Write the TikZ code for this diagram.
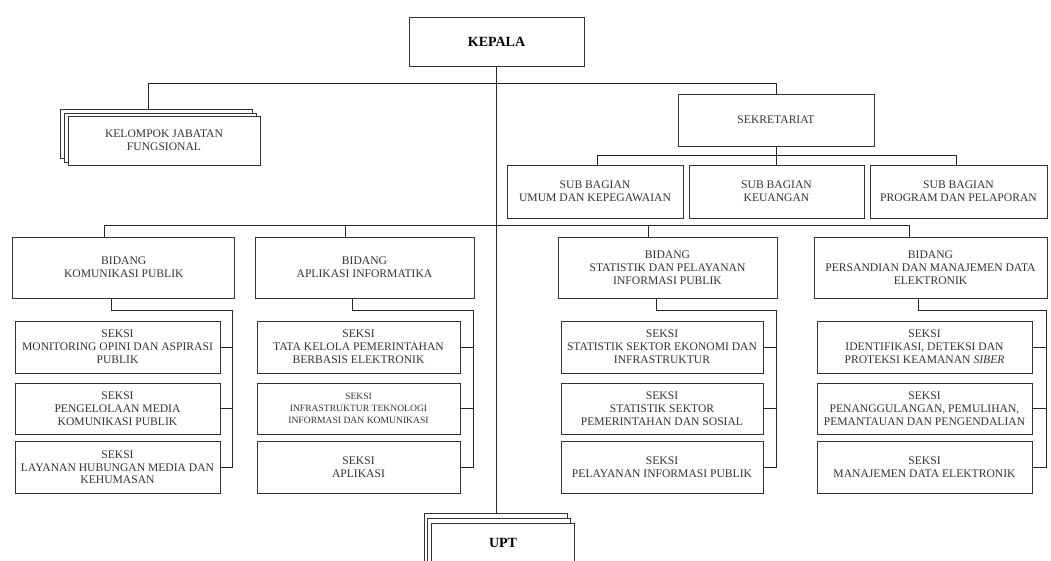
\documentclass[tikz,border=0pt]{standalone}
\usepackage{fontspec}
\setmainfont{Liberation Serif}
\begin{document}
\begin{tikzpicture}[x=1pt,y=-1pt,
  box/.style={draw=black!80,line width=1pt,fill=white,align=center,inner sep=1pt,
    font=\fontsize{11.6}{12.8}\selectfont,text=black!80},
  wire/.style={draw=black!85,line width=1pt},
  boldbox/.style={box,font=\fontsize{14}{16}\selectfont\bfseries,text=black}]
\clip (0,0) rectangle (1051,560);
\fill[white] (0,0) rectangle (1051,560);
% KEPALA
\node[boldbox,minimum width=175,minimum height=49] (kepala) at (496.5,41.5) {KEPALA};
% KJF stack
\node[box,minimum width=192,minimum height=49] (kjfA) at (156,134) {};
\node[box,minimum width=192,minimum height=49] (kjfB) at (160,137.5) {};
\node[box,minimum width=192,minimum height=49] (kjf) at (164,140.5) {KELOMPOK JABATAN\\FUNGSIONAL};
% Sekretariat
\node[box,minimum width=196,minimum height=52] (sek) at (776,120) {SEKRETARIAT};
\node[box,minimum width=176,minimum height=53] (sb1) at (595,191.5) {SUB BAGIAN\\UMUM DAN KEPEGAWAIAN};
\node[box,minimum width=175,minimum height=53] (sb2) at (776.5,191.5) {SUB BAGIAN\\KEUANGAN};
\node[box,minimum width=177,minimum height=53] (sb3) at (958.5,191.5) {SUB BAGIAN\\PROGRAM DAN PELAPORAN};
% Bidang
\node[box,minimum width=222,minimum height=61] (b1) at (123.8,267.5) {BIDANG\\KOMUNIKASI PUBLIK};
\node[box,minimum width=219,minimum height=61] (b2) at (364.5,267.5) {BIDANG\\APLIKASI INFORMATIKA};
\node[box,minimum width=219,minimum height=61] (b3) at (667.5,267.5) {BIDANG\\STATISTIK DAN PELAYANAN\\INFORMASI PUBLIK};
\node[box,minimum width=233,minimum height=61] (b4) at (930.5,267.5) {BIDANG\\PERSANDIAN DAN MANAJEMEN DATA\\ELEKTRONIK};
% Seksi col 1
\node[box,minimum width=205,minimum height=52] (s11) at (117.5,347) {SEKSI\\MONITORING OPINI DAN ASPIRASI\\PUBLIK};
\node[box,minimum width=205,minimum height=51] (s12) at (117.5,408.5) {SEKSI\\PENGELOLAAN MEDIA\\KOMUNIKASI PUBLIK};
\node[box,minimum width=205,minimum height=51.5] (s13) at (117.5,467.3) {SEKSI\\LAYANAN HUBUNGAN MEDIA DAN\\KEHUMASAN};
% col 2
\node[box,minimum width=203,minimum height=52] (s21) at (358.5,347) {SEKSI\\TATA KELOLA PEMERINTAHAN\\BERBASIS ELEKTRONIK};
\node[box,minimum width=203,minimum height=51,font=\fontsize{9.6}{12}\selectfont] (s22) at (358.5,408.5) {SEKSI\\INFRASTRUKTUR TEKNOLOGI\\INFORMASI DAN KOMUNIKASI};
\node[box,minimum width=203,minimum height=51.5] (s23) at (358.5,467.3) {SEKSI\\APLIKASI};
% col 3
\node[box,minimum width=202,minimum height=52] (s31) at (662,347) {SEKSI\\STATISTIK SEKTOR EKONOMI DAN\\INFRASTRUKTUR};
\node[box,minimum width=202,minimum height=51] (s32) at (662,408.5) {SEKSI\\STATISTIK SEKTOR\\PEMERINTAHAN DAN SOSIAL};
\node[box,minimum width=202,minimum height=51.5] (s33) at (662,467.3) {SEKSI\\PELAYANAN INFORMASI PUBLIK};
% col 4
\node[box,minimum width=215,minimum height=52] (s41) at (924.5,347) {SEKSI\\IDENTIFIKASI, DETEKSI DAN\\PROTEKSI KEAMANAN \textit{SIBER}};
\node[box,minimum width=215,minimum height=51] (s42) at (924.5,408.5) {SEKSI\\PENANGGULANGAN, PEMULIHAN,\\PEMANTAUAN DAN PENGENDALIAN};
\node[box,minimum width=215,minimum height=51.5] (s43) at (924.5,467.3) {SEKSI\\MANAJEMEN DATA ELEKTRONIK};
% UPT stack
\node[box,minimum width=143,minimum height=60] (uptA) at (495.5,543) {};
\node[box,minimum width=143,minimum height=60] (uptB) at (499,548) {};
\node[boldbox,minimum width=143,minimum height=40] (upt) at (503,543) {UPT};
% connectors
\coordinate (kjftop) at (148,109);
\coordinate (lvl1) at (0,83.3);
\coordinate (lvl2) at (0,155);
\coordinate (lvl3) at (0,225.7);
\draw[wire] (kepala.south) -- (kepala.south |- uptA.north);
\draw[wire] (kjftop) -- (kjftop |- lvl1) -- (sek.north |- lvl1) -- (sek.north);
\draw[wire] (sek.south) -- (sek.south |- lvl2);
\coordinate (e1) at (597,0);
\coordinate (e3) at (956,0);
\draw[wire] (e1 |- sb1.north) -- (e1 |- lvl2) -- (e3 |- lvl2) -- (e3 |- sb3.north);
\draw[wire] (sb2.north) -- (sb2.north |- lvl2);
\coordinate (d1) at (104,237);
\coordinate (d2) at (345,237);
\coordinate (d3) at (648,237);
\coordinate (d4) at (909,237);
\draw[wire] (d1) -- (d1 |- lvl3) -- (d4 |- lvl3) -- (d4);
\draw[wire] (d2) -- (d2 |- lvl3);
\draw[wire] (d3) -- (d3 |- lvl3);
% bidang -> seksi
\coordinate (lvl4) at (0,310);
\coordinate (c1a) at (111.6,0); \coordinate (c1b) at (232.6,0);
\coordinate (c2a) at (352.6,0); \coordinate (c2b) at (473,0);
\coordinate (c3a) at (656,0);   \coordinate (c3b) at (776,0);
\coordinate (c4a) at (918,0);   \coordinate (c4b) at (1046,0);
\draw[wire] (c1a |- b1.south) -- (c1a |- lvl4) -- (c1b |- lvl4) -- (c1b |- s13.east) -- (s13.east);
\draw[wire] (s11.east) -- (c1b |- s11.east);
\draw[wire] (s12.east) -- (c1b |- s12.east);
\draw[wire] (c2a |- b2.south) -- (c2a |- lvl4) -- (c2b |- lvl4) -- (c2b |- s23.east) -- (s23.east);
\draw[wire] (s21.east) -- (c2b |- s21.east);
\draw[wire] (s22.east) -- (c2b |- s22.east);
\draw[wire] (c3a |- b3.south) -- (c3a |- lvl4) -- (c3b |- lvl4) -- (c3b |- s33.east) -- (s33.east);
\draw[wire] (s31.east) -- (c3b |- s31.east);
\draw[wire] (s32.east) -- (c3b |- s32.east);
\draw[wire] (c4a |- b4.south) -- (c4a |- lvl4) -- (c4b |- lvl4) -- (c4b |- s43.east) -- (s43.east);
\draw[wire] (s41.east) -- (c4b |- s41.east);
\draw[wire] (s42.east) -- (c4b |- s42.east);
\end{tikzpicture}
\end{document}
